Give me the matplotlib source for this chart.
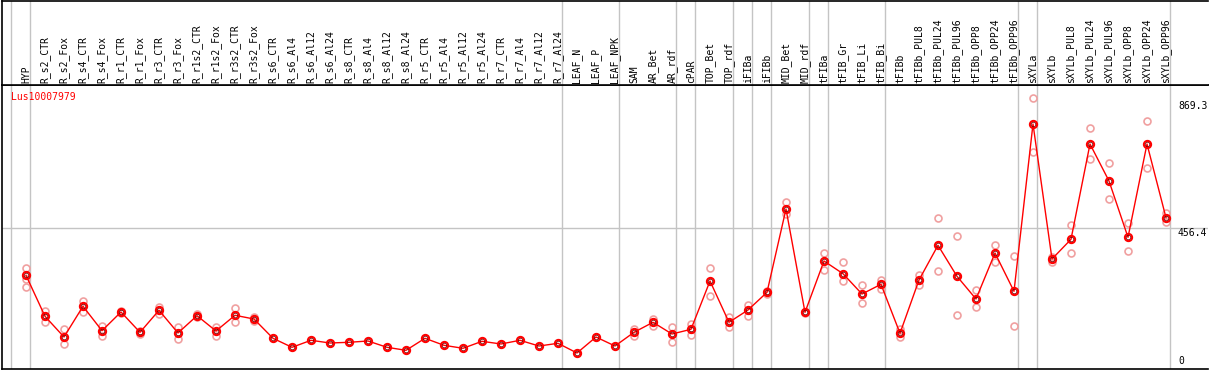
import numpy as np
import matplotlib
matplotlib.use("Agg")
import matplotlib.pyplot as plt

# sample names, in plotting order
samples = [
    "HYP", "R_s2_CTR", "R_s2_Fox", "R_s4_CTR", "R_s4_Fox", "R_r1_CTR", "R_r1_Fox",
    "R_r3_CTR", "R_r3_Fox", "R_r1s2_CTR", "R_r1s2_Fox", "R_r3s2_CTR", "R_r3s2_Fox",
    "R_s6_CTR", "R_s6_Al4", "R_s6_Al12", "R_s6_Al24", "R_s8_CTR", "R_s8_Al4",
    "R_s8_Al12", "R_s8_Al24", "R_r5_CTR", "R_r5_Al4", "R_r5_Al12", "R_r5_Al24",
    "R_r7_CTR", "R_r7_Al4", "R_r7_Al12", "R_r7_Al24", "LEAF_N", "LEAF_P", "LEAF_NPK",
    "SAM", "AR_Bet", "AR_rdf", "cPAR", "TOP_Bet", "TOP_rdf", "iFIBa", "iFIBb",
    "MID_Bet", "MID_rdf", "tFIBa", "tFIB_Gr", "tFIB_Li", "tFIB_Bi", "tFIBb",
    "tFIBb_PUL8", "tFIBb_PUL24", "tFIBb_PUL96", "tFIBb_OPP8", "tFIBb_OPP24",
    "tFIBb_OPP96", "sXYLa", "sXYLb", "sXYLb_PUL8", "sXYLb_PUL24", "sXYLb_PUL96",
    "sXYLb_OPP8", "sXYLb_OPP24", "sXYLb_OPP96",
]

# number of samples in each experiment group (separators drawn after each)
group_sizes = [1, 28, 3, 3, 1, 2, 1, 1, 2, 1, 3, 7, 1, 7]

# mean expression per sample
means = [
    303.4, 169.9, 102.5, 202.5, 123.0, 183.9, 117.8, 189.5, 115.6, 171.9,
    122.1, 173.2, 161.1, 98.3, 69.0, 91.8, 83.0, 85.3, 89.5, 69.0,
    59.2, 98.3, 75.5, 65.8, 88.5, 79.8, 91.8, 73.2, 82.0, 50.5,
    102.5, 73.2, 117.8, 150.4, 112.3, 127.6, 284.8, 150.4, 190.4, 248.0,
    519.2, 182.9, 349.9, 308.6, 242.5, 274.1, 114.6, 288.1, 401.0, 300.1,
    226.2, 376.0, 251.3, 795.9, 356.4, 420.6, 730.8, 610.4, 427.1, 730.8,
    490.9,
]

# individual replicates (empty where they sit under the mean)
replicates = [
    [326.2, 290.4, 264.3], [187.2, 152.3], [127.6, 78.8], [219.7, 184.9],
    [138.3, 104.8], [186.0, 182.0], [123.0, 111.3], [201.2, 177.4],
    [136.1, 96.0], [176.0, 168.0], [136.1, 106.8], [196.9, 151.4],
    [167.6, 155.6], [], [], [], [], [], [], [], [], [], [], [], [], [], [], [],
    [], [], [], [],
    [129.6, 105.8], [160.2, 138.3], [135.1, 87.2], [144.9, 110.0],
    [326.2, 237.0], [166.7, 135.1], [206.7, 170.9], [252.0, 244.0],
    [541.0, 502.0], [185.0, 180.0], [376.0, 319.7], [346.7, 283.9],
    [270.8, 212.2], [288.1, 259.8], [128.6, 103.5], [305.3, 271.8],
    [488.9, 317.4], [430.3, 173.2], [254.6, 199.2], [402.0, 345.7],
    [365.2, 137.4], [879.6, 703.8], [363.9, 347.6], [466.1, 375.0],
    [781.9, 681.0], [668.0, 551.8], [473.6, 381.5], [804.7, 651.7],
    [505.2, 477.9],
]

gene = "Lus10007979"
ytick_vals = [0, 456.4, 869.3]

W, H = 1209, 370
fig = plt.figure(figsize=(W / 100, H / 100), dpi=100)

x = np.arange(len(samples))
xlim = ((1.5 - 26) / 19, (1208 - 26) / 19)
mono = "DejaVu Sans Mono"

ax = fig.add_axes([1.5 / W, 1.5 / H, (1208 - 1.5) / W, (368.5 - 85.3) / H])
hdr = fig.add_axes([1.5 / W, (H - 85.3) / H, (1208 - 1.5) / W, 84.8 / H])

for a in (ax, hdr):
    a.set_xlim(*xlim)
    a.set_xticks([])
    a.set_yticks([])
    a.spines["right"].set_visible(False)
    for s in ("left", "top", "bottom"):
        a.spines[s].set_linewidth(1.2)
        a.spines[s].set_color("black")
hdr.set_ylim(0, 1)
ax.set_ylim(0, 921.9)

# group separators
bounds = np.concatenate([[-1], np.cumsum(group_sizes) - 1]) + 0.21
for b in bounds:
    for a in (ax, hdr):
        a.axvline(b, color="#c4c4c4", lw=1.0, zorder=0)

ax.axhline(ytick_vals[1], color="#c4c4c4", lw=1.0, zorder=0)

# sample labels in header
for xi, name in zip(x, samples):
    hdr.text(xi, 2.5 / 84.8, name, rotation=90, ha="center", va="bottom",
             family=mono, fontsize=7, color="black")

# replicates
rx = [xi for xi, r in zip(x, replicates) for _ in r]
ry = [v for r in replicates for v in r]
ax.plot(rx, ry, ls="none", marker="o", ms=5, mfc="none", mec="#f0a0a0",
        mew=1.2, zorder=2)

# mean line
ax.plot(x, means, color="red", lw=1.0, zorder=3)
ax.plot(x, means, ls="none", marker="o", ms=5.2, mfc="none", mec="red",
        mew=1.5, zorder=4)
ax.plot(x, means, ls="none", marker="o", ms=3.2, mfc="none", mec="#700000",
        mew=0.5, zorder=5)

ax.text(10 / 1206.5, 1 - 12 / 283.2, gene, transform=ax.transAxes,
        color="red", family=mono, fontsize=7, ha="left", va="center")

# value labels on the right
xr = (1178 - 26) / 19
ax.text(xr, ytick_vals[2], f"{ytick_vals[2]}", family=mono, fontsize=7,
        ha="left", va="top")
ax.text(xr, ytick_vals[1], f"{ytick_vals[1]}", family=mono, fontsize=7,
        ha="left", va="top")
ax.text(xr, 8, f"{ytick_vals[0]}", family=mono, fontsize=7, ha="left",
        va="bottom")

fig.savefig("out.png", dpi=100)
